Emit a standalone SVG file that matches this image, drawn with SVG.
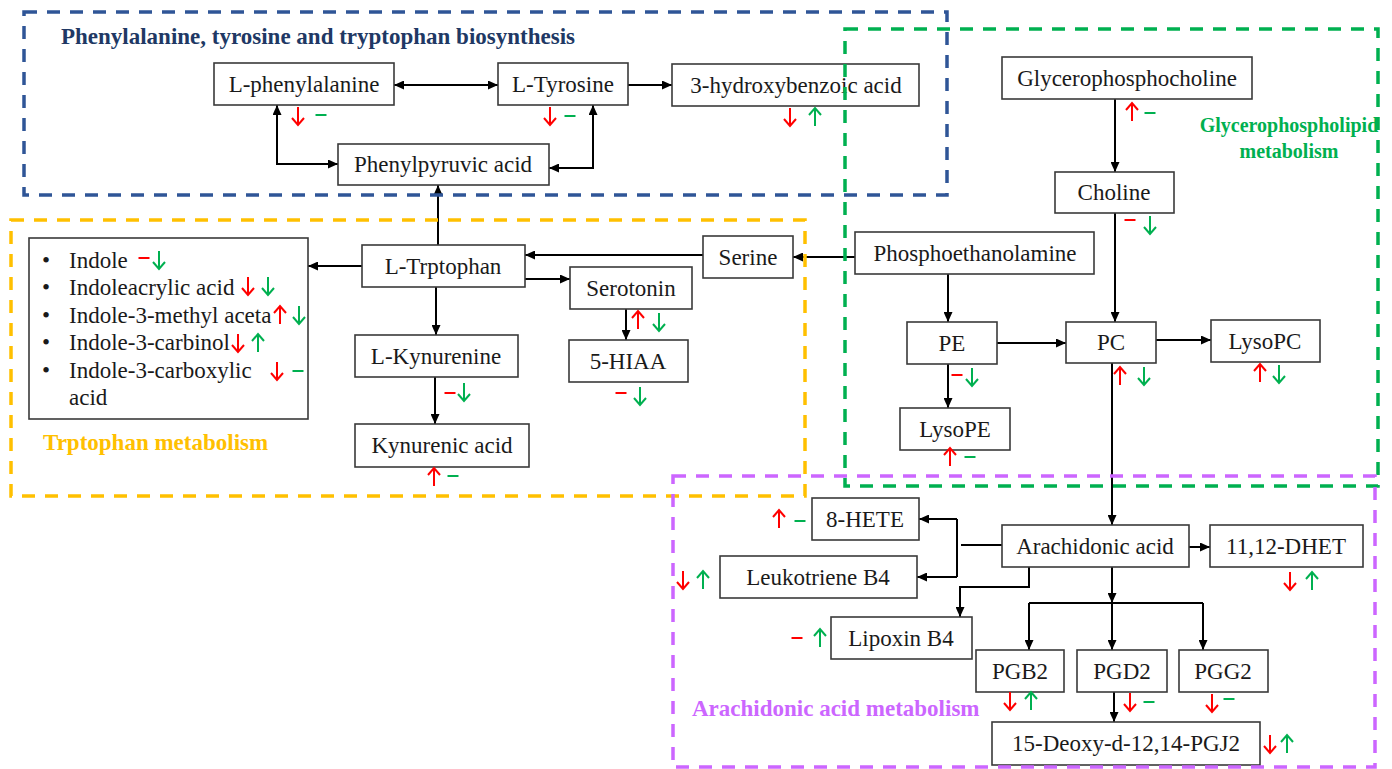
<svg xmlns="http://www.w3.org/2000/svg" xmlns:xlink="http://www.w3.org/1999/xlink" width="1392" height="769" viewBox="0 0 1392 769">
<style>
.n rect{fill:#fff;stroke:#3a3a3a;stroke-width:1.6}
.n text,.t{font-family:"Liberation Serif","Times New Roman",serif;font-size:23px;fill:#1a1a1a}
.n text{text-anchor:middle}
.c path{fill:none;stroke:#000;stroke-width:2}
.ar{marker-end:url(#ah)}
.db{marker-start:url(#ah);marker-end:url(#ah)}
.reg{fill:none;stroke-width:3.5;stroke-dasharray:13 10}
.lbl{font-family:"Liberation Serif","Times New Roman",serif;font-weight:bold;font-size:23px}
.r{stroke:#ff0000;fill:none;stroke-width:2}
.g{stroke:#00b050;fill:none;stroke-width:2}
</style>
<defs>
<marker id="ah" viewBox="0 0 10 9" refX="10" refY="4.5" markerWidth="10" markerHeight="9" markerUnits="userSpaceOnUse" orient="auto-start-reverse">
<path d="M0,0 L10,4.5 L0,9 z" fill="#000"/>
</marker>
<path id="dn" d="M0,-9 V9 M-6,2 L0,9 L6,2"/>
<path id="up" d="M0,9 V-9 M-6,-2 L0,-9 L6,-2"/>
<path id="ds" d="M-5.5,0 H5.5"/>
</defs>
<rect width="1392" height="769" fill="#fff"/>

<g id="connectors" class="c">
<path class="db" d="M394,85 H498"/>
<path class="ar" d="M628,85 H672"/>
<path class="db" d="M277,105 V164 H338"/>
<path class="db" d="M549,168 H593 V105"/>
<path class="ar" d="M438,245 V185"/>
<path class="ar" d="M855,257 H793"/>
<path class="ar" d="M703,255 H525"/>
<path class="ar" d="M362,266 H308"/>
<path class="ar" d="M525,279 H570"/>
<path class="ar" d="M436,287 V335"/>
<path class="ar" d="M435,377 V424"/>
<path class="ar" d="M626,309 V340"/>
<path class="ar" d="M1115,99 V172"/>
<path class="ar" d="M1115,213 V322"/>
<path class="ar" d="M948,274 V322"/>
<path class="ar" d="M997,343 H1066"/>
<path class="ar" d="M1156,340 H1211"/>
<path class="ar" d="M948,364 V408"/>
<path class="ar" d="M1112,363 V525"/>
<path d="M1002,545 H961"/>
<path d="M957,519 V577"/>
<path class="ar" d="M957,519 H919"/>
<path class="ar" d="M957,577 H917"/>
<path class="ar" d="M1029,567 V587 H960 V617"/>
<path class="ar" d="M1189,547 H1210"/>
<path class="ar" d="M1112,567 V603"/>
<path d="M1029,603 H1203"/>
<path class="ar" d="M1029,603 V650"/>
<path class="ar" d="M1112,603 V650"/>
<path class="ar" d="M1203,603 V650"/>
<path class="ar" d="M1114,692 V722"/>
</g>

<g id="n-lphe" class="n"><rect x="214" y="63" width="180" height="42"/><text x="304" y="92">L-phenylalanine</text>
<use href="#dn" x="298" y="116" class="r"/><use href="#ds" x="321" y="115" class="g"/></g>
<g id="n-ltyr" class="n"><rect x="498" y="63" width="130" height="42"/><text x="563" y="92">L-Tyrosine</text>
<use href="#dn" x="550" y="116" class="r"/><use href="#ds" x="570" y="116" class="g"/></g>
<g id="n-3hba" class="n"><rect x="672" y="64" width="247" height="42"/><text x="796" y="93">3-hydroxybenzoic acid</text>
<use href="#dn" x="790" y="117" class="r"/><use href="#up" x="815" y="117" class="g"/></g>
<g id="n-ppa" class="n"><rect x="338" y="144" width="211" height="41"/><text x="443" y="172">Phenylpyruvic acid</text></g>

<g id="n-list" class="n"><rect x="29" y="238" width="279" height="181"/>
<text class="t" x="42" y="268" style="text-anchor:start">•</text><text class="t" x="69" y="268" style="text-anchor:start">Indole</text>
<text class="t" x="42" y="295" style="text-anchor:start">•</text><text class="t" x="69" y="295" style="text-anchor:start">Indoleacrylic acid</text>
<text class="t" x="42" y="323" style="text-anchor:start">•</text><text class="t" x="69" y="323" style="text-anchor:start">Indole-3-methyl aceta</text>
<text class="t" x="42" y="350" style="text-anchor:start">•</text><text class="t" x="69" y="350" style="text-anchor:start">Indole-3-carbinol</text>
<text class="t" x="42" y="378" style="text-anchor:start">•</text><text class="t" x="69" y="378" style="text-anchor:start">Indole-3-carboxylic</text>
<text class="t" x="69" y="405" style="text-anchor:start">acid</text>
<use href="#ds" x="144" y="258" class="r"/><use href="#dn" x="159" y="260" class="g"/>
<use href="#dn" x="248" y="286" class="r"/><use href="#dn" x="268" y="286" class="g"/>
<use href="#up" x="280" y="315" class="r"/><use href="#dn" x="299" y="315" class="g"/>
<use href="#dn" x="238" y="343" class="r"/><use href="#up" x="258" y="343" class="g"/>
<use href="#dn" x="277" y="371" class="r"/><use href="#ds" x="298" y="371" class="g"/>
</g>
<g id="n-ltrp" class="n"><rect x="362" y="245" width="163" height="42"/><text x="443" y="274">L-Trptophan</text></g>
<g id="n-serine" class="n"><rect x="703" y="236" width="90" height="42"/><text x="748" y="265">Serine</text></g>
<g id="n-sero" class="n"><rect x="570" y="267" width="122" height="42"/><text x="631" y="296">Serotonin</text>
<use href="#up" x="638" y="320" class="r"/><use href="#dn" x="659" y="322" class="g"/></g>
<g id="n-hiaa" class="n"><rect x="569" y="340" width="119" height="42"/><text x="628" y="369">5-HIAA</text>
<use href="#ds" x="621" y="393" class="r"/><use href="#dn" x="640" y="396" class="g"/></g>
<g id="n-lkyn" class="n"><rect x="355" y="335" width="163" height="42"/><text x="436" y="364">L-Kynurenine</text>
<use href="#ds" x="450" y="393" class="r"/><use href="#dn" x="464" y="392" class="g"/></g>
<g id="n-kyna" class="n"><rect x="355" y="424" width="174" height="43"/><text x="442" y="453">Kynurenic acid</text>
<use href="#up" x="434" y="477" class="r"/><use href="#ds" x="453" y="476" class="g"/></g>

<g id="n-gpc" class="n"><rect x="1002" y="57" width="250" height="42"/><text x="1127" y="86">Glycerophosphocholine</text>
<use href="#up" x="1132" y="112" class="r"/><use href="#ds" x="1150" y="113" class="g"/></g>
<g id="n-choline" class="n"><rect x="1055" y="172" width="119" height="41"/><text x="1114" y="200">Choline</text>
<use href="#ds" x="1130" y="220" class="r"/><use href="#dn" x="1150" y="225" class="g"/></g>
<g id="n-pea" class="n"><rect x="855" y="232" width="239" height="42"/><text x="975" y="261">Phosphoethanolamine</text></g>
<g id="n-pe" class="n"><rect x="907" y="322" width="90" height="42"/><text x="952" y="351">PE</text>
<use href="#ds" x="957" y="375" class="r"/><use href="#dn" x="972" y="377" class="g"/></g>
<g id="n-pc" class="n"><rect x="1066" y="322" width="90" height="41"/><text x="1111" y="350">PC</text>
<use href="#up" x="1120" y="376" class="r"/><use href="#dn" x="1144" y="376" class="g"/></g>
<g id="n-lysopc" class="n"><rect x="1211" y="320" width="109" height="42"/><text x="1265" y="349">LysoPC</text>
<use href="#up" x="1260" y="373" class="r"/><use href="#dn" x="1279" y="374" class="g"/></g>
<g id="n-lysope" class="n"><rect x="900" y="408" width="110" height="42"/><text x="955" y="437">LysoPE</text>
<use href="#up" x="950" y="457" class="r"/><use href="#ds" x="970" y="457" class="g"/></g>

<g id="n-aa" class="n"><rect x="1002" y="525" width="187" height="42"/><text x="1095" y="554">Arachidonic acid</text></g>
<g id="n-dhet" class="n"><rect x="1210" y="525" width="153" height="42"/><text x="1286" y="554">11,12-DHET</text>
<use href="#dn" x="1290" y="581" class="r"/><use href="#up" x="1312" y="581" class="g"/></g>
<g id="n-hete" class="n"><rect x="812" y="498" width="107" height="42"/><text x="865" y="527">8-HETE</text>
<use href="#up" x="779" y="519" class="r"/><use href="#ds" x="800" y="521" class="g"/></g>
<g id="n-ltb4" class="n"><rect x="720" y="556" width="197" height="42"/><text x="818" y="585">Leukotriene B4</text>
<use href="#dn" x="683" y="580" class="r"/><use href="#up" x="703" y="580" class="g"/></g>
<g id="n-lxb4" class="n"><rect x="831" y="617" width="141" height="42"/><text x="901" y="646">Lipoxin B4</text>
<use href="#ds" x="797" y="638" class="r"/><use href="#up" x="820" y="638" class="g"/></g>
<g id="n-pgb2" class="n"><rect x="976" y="650" width="88" height="42"/><text x="1020" y="679">PGB2</text>
<use href="#dn" x="1010" y="701" class="r"/><use href="#up" x="1031" y="701" class="g"/></g>
<g id="n-pgd2" class="n"><rect x="1077" y="650" width="90" height="42"/><text x="1122" y="679">PGD2</text>
<use href="#dn" x="1130" y="702" class="r"/><use href="#ds" x="1149" y="702" class="g"/></g>
<g id="n-pgg2" class="n"><rect x="1179" y="650" width="89" height="42"/><text x="1223" y="679">PGG2</text>
<use href="#dn" x="1212" y="703" class="r"/><use href="#ds" x="1229" y="699" class="g"/></g>
<g id="n-pgj2" class="n"><rect x="992" y="722" width="268" height="43"/><text x="1126" y="751">15-Deoxy-d-12,14-PGJ2</text>
<use href="#dn" x="1270" y="744" class="r"/><use href="#up" x="1287" y="744" class="g"/></g>

<g id="regions">
<rect class="reg" x="24" y="12" width="923" height="183" stroke="#2f5597"/>
<rect class="reg" x="845" y="29" width="533" height="457" stroke="#00b050"/>
<rect class="reg" x="11" y="220" width="794" height="276" stroke="#ffc000"/>
<rect class="reg" x="673" y="476" width="702" height="291" stroke="#cc66ff"/>
<text class="lbl" x="61" y="44" fill="#203864">Phenylalanine, tyrosine and tryptophan biosynthesis</text>
<text class="lbl" x="1289" y="132" fill="#00b050" text-anchor="middle" style="font-size:20px">Glycerophospholipid</text>
<text class="lbl" x="1289" y="158" fill="#00b050" text-anchor="middle" style="font-size:20px">metabolism</text>
<text class="lbl" x="43" y="450" fill="#ffc000">Trptophan metabolism</text>
<text class="lbl" x="692" y="716" fill="#cc66ff">Arachidonic acid metabolism</text>
</g>
</svg>
